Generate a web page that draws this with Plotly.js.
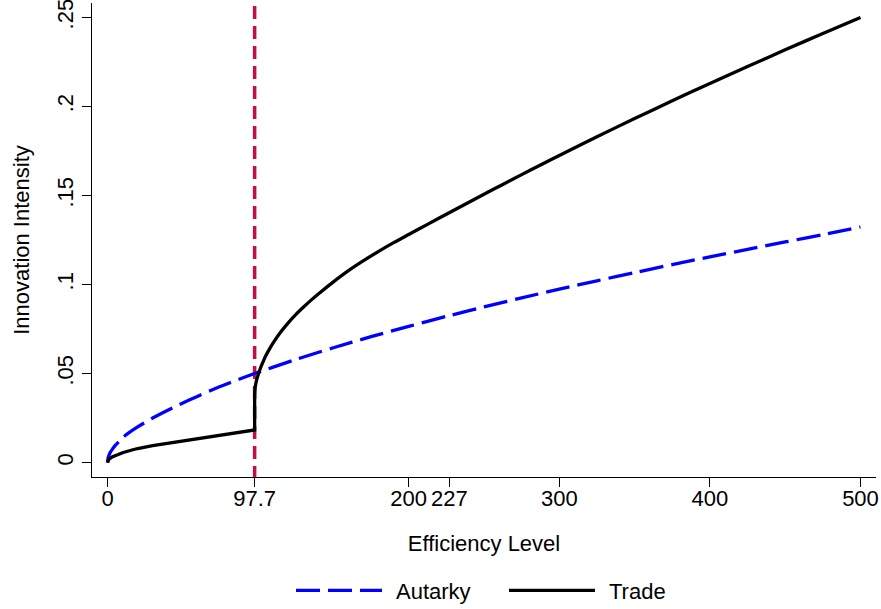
<!DOCTYPE html>
<html>
<head>
<meta charset="utf-8">
<script src="https://cdn.plot.ly/plotly-3.0.1.min.js"></script>
<style>
  html, body { margin: 0; padding: 0; background: #ffffff; }
  #chart { width: 881px; height: 609px; }
</style>
</head>
<body>
<div id="chart"></div>
<script>
// ---- data ----
const cutoff = 97.7;

const autarkyX = [0, 0.5, 1, 2, 3.5, 5, 7.5, 10, 15, 20, 30, 40, 50, 60, 70, 80, 90, 97.7,
                  110, 125, 150, 175, 200, 225, 250, 275, 300, 325, 350, 375, 400, 425, 450, 475, 500];
const autarkyY = [0, 0.0030, 0.0042, 0.0060, 0.0078, 0.0095, 0.0118, 0.0140, 0.0172, 0.0200, 0.0250,
                  0.0294, 0.0334, 0.0373, 0.0410, 0.0444, 0.0476, 0.0500,
                  0.0536, 0.0579, 0.0645, 0.0707, 0.0765, 0.0821, 0.0874, 0.0925, 0.0974, 0.1021,
                  0.1067, 0.1112, 0.1155, 0.1197, 0.1239, 0.1280, 0.1323];

// Trade below the cutoff, ending with the jump at the cutoff
const tradeLowX = [0, 1, 3, 5, 10, 15, 20, 30, 40, 50, 60, 70, 80, 90, 97.7, 97.7];
const tradeLowY = [0, 0.0020, 0.0031, 0.0039, 0.0055, 0.0068, 0.0079, 0.0095, 0.0108, 0.0121, 0.0134,
                   0.0146, 0.0159, 0.0172, 0.0183, 0.0385];
// Trade above the cutoff
const tradeHighX = [97.7, 98, 98.5, 99.2, 100, 101, 102, 103.5, 105, 107.5, 110, 115, 120, 125, 130, 135,
                    140, 150, 160, 170, 180, 190, 200, 212.5, 225, 237.5, 250, 262.5, 275, 287.5, 300,
                    325, 350, 375, 400, 425, 450, 475, 500];
const tradeHighY = [0.0385, 0.0418, 0.0445, 0.0470, 0.0492, 0.0517, 0.0540, 0.0570, 0.0598, 0.0637, 0.0672,
                    0.0733, 0.0785, 0.0831, 0.0872, 0.0911,
                    0.0947, 0.1015, 0.1078, 0.1134, 0.1186, 0.1235, 0.1281, 0.1338, 0.1395, 0.1451, 0.1507,
                    0.1562, 0.1617, 0.1671, 0.1725,
                    0.1830, 0.1932, 0.2032, 0.2129, 0.2224, 0.2318, 0.2410, 0.2500];

const seriesNames = ['Autarky', 'Trade'];

const xTickVals = [0, 97.7, 200, 227, 300, 400, 500];
const xTickText = ['0', '97.7', '200', '227', '300', '400', '500'];
const yTickVals = [0, 0.05, 0.1, 0.15, 0.2, 0.25];
const yTickText = ['0', '.05', '.1', '.15', '.2', '.25'];

// ---- chart ----
const FONT = 'Liberation Sans, Arial, Helvetica, sans-serif';

const traces = [
  {
    x: autarkyX, y: autarkyY, type: 'scatter', mode: 'lines', name: seriesNames[0],
    line: {color: '#0000FF', width: 3.3, dash: '24px,8px', shape: 'spline', smoothing: 0.8}
  },
  {
    x: tradeLowX, y: tradeLowY, type: 'scatter', mode: 'lines', name: seriesNames[1],
    legendgroup: 'trade',
    line: {color: '#000000', width: 3.3}
  },
  {
    x: tradeHighX, y: tradeHighY, type: 'scatter', mode: 'lines', name: seriesNames[1],
    legendgroup: 'trade', showlegend: false,
    line: {color: '#000000', width: 3.3, shape: 'spline', smoothing: 0.8}
  }
];

const layout = {
  width: 881, height: 609,
  margin: {l: 92, r: 5, t: 3, b: 132, pad: 0, autoexpand: false},
  paper_bgcolor: '#ffffff', plot_bgcolor: '#ffffff',
  font: {family: FONT, size: 22, color: '#000000'},
  xaxis: {
    range: [-10.3, 510.3],
    showline: true, linecolor: '#000000', linewidth: 1,
    ticks: 'outside', ticklen: 9, tickwidth: 1, tickcolor: '#000000',
    tickvals: xTickVals, ticktext: xTickText, tickangle: 0,
    ticklabeloverflow: 'allow', ticklabelstandoff: -7,
    showgrid: false, zeroline: false, automargin: false,
    tickfont: {family: FONT, size: 22, color: '#000000'},
    title: {text: 'Efficiency Level', font: {family: FONT, size: 22, color: '#000000'}, standoff: 25}
  },
  yaxis: {
    range: [-0.0081, 0.2581],
    showline: true, linecolor: '#000000', linewidth: 1,
    ticks: 'outside', ticklen: 9, tickwidth: 1, tickcolor: '#000000',
    tickvals: yTickVals, ticktext: yTickText, tickangle: -90,
    ticklabeloverflow: 'allow',
    showgrid: false, zeroline: false, automargin: false,
    tickfont: {family: FONT, size: 22, color: '#000000'},
    title: {text: 'Innovation Intensity', font: {family: FONT, size: 22, color: '#000000'}, standoff: 17}
  },
  showlegend: true,
  legend: {
    orientation: 'h', x: 0.2538, xanchor: 'left', y: -0.2395, yanchor: 'middle',
    itemwidth: 95, entrywidth: 103, entrywidthmode: 'pixels',
    font: {family: FONT, size: 22, color: '#000000'},
    bgcolor: 'rgba(0,0,0,0)', borderwidth: 0, traceorder: 'normal'
  },
  shapes: [
    {
      type: 'line', xref: 'x', yref: 'paper', x0: cutoff, x1: cutoff, y0: 0.9937, y1: 0,
      line: {color: '#C4103F', width: 3.5, dash: '13px,7px'}, layer: 'below'
    }
  ]
};

Plotly.newPlot('chart', traces, layout, {staticPlot: true, displayModeBar: false}).then(function (gd) {
  gd.querySelectorAll('.legendlines path').forEach(function (p) {
    p.setAttribute('d', 'M5,0h86');
  });
});
</script>
</body>
</html>
